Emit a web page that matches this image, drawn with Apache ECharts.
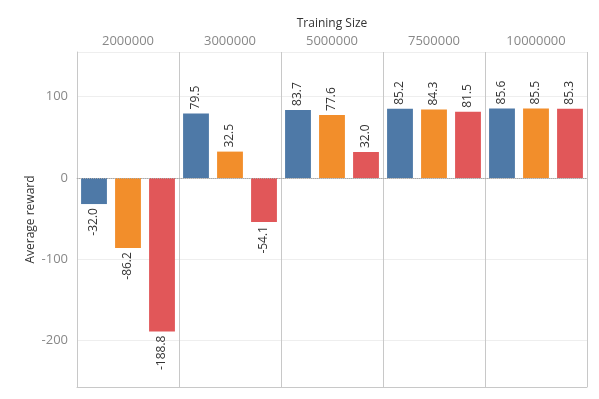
<!DOCTYPE html>
<html>
<head>
<meta charset="utf-8">
<script src="https://cdn.jsdelivr.net/npm/echarts@6/dist/echarts.min.js"></script>
<style>
  html, body { margin: 0; padding: 0; background: #fff; }
  #c1 { width: 599px; height: 399px; }
</style>
</head>
<body>
<div id="c1"></div>
<script>
// training sizes (column panels)
var sizes = ['2000000', '3000000', '5000000', '7500000', '10000000']
// three runs per panel, left to right
var runA = [-32.0, 79.5, 83.7, 85.2, 85.6]
var runB = [-86.2, 32.5, 77.6, 84.3, 85.5]
var runC = [-188.8, -54.1, 32.0, 81.5, 85.3]
var colors = ['#4e79a7', '#f28e2b', '#e15759']

var FONT = "'Open Sans', 'Noto Sans', sans-serif"
var lineColor = '#c8c8c8'

// flatten into 15 bars, panel by panel
var cats = [], items = []
for (var k = 0; k < sizes.length; k++) {
  var vals = [runA[k], runB[k], runC[k]]
  for (var j = 0; j < 3; j++) {
    var v = vals[j]
    cats.push(sizes[k] + '_' + j)
    items.push({
      value: v,
      itemStyle: { color: colors[j] },
      label: {
        position: v >= 0 ? 'top' : 'bottom',
        align: v >= 0 ? 'left' : 'right'
      }
    })
  }
}

var myChart = echarts.init(document.getElementById('c1'), null, { renderer: 'canvas' })
myChart.setOption({
  backgroundColor: '#fff',
  animation: false,
  textStyle: { fontFamily: FONT },
  grid: { left: 77, right: 12, top: 52, bottom: 12, containLabel: false },
  xAxis: [{
    type: 'category',
    data: cats,
    position: 'bottom',
    axisLine: { show: true, onZero: false, lineStyle: { color: lineColor } },
    axisTick: { show: false },
    axisLabel: { show: false },
    splitLine: { show: false }
  }, {
    type: 'category',
    data: sizes,
    position: 'top',
    name: 'Training Size',
    nameLocation: 'middle',
    nameGap: 22,
    nameMoveOverlap: false,
    nameTextStyle: { color: '#333', fontSize: 12, fontFamily: FONT },
    axisLine: { show: true, lineStyle: { color: lineColor } },
    axisTick: { show: true, length: 20, lineStyle: { color: lineColor } },
    axisLabel: { color: '#888', fontSize: 13, margin: 4, fontFamily: FONT },
    splitLine: { show: true, lineStyle: { color: lineColor } }
  }],
  yAxis: {
    type: 'value',
    min: -257,
    max: 155,
    splitNumber: 4,
    name: 'Average reward',
    nameLocation: 'middle',
    nameGap: 40,
    nameMoveOverlap: false,
    nameTextStyle: { color: '#333', fontSize: 12, fontFamily: FONT },
    axisLine: { show: true, lineStyle: { color: lineColor } },
    axisTick: { show: false },
    axisLabel: { color: '#888', fontSize: 13, margin: 9, showMinLabel: false, showMaxLabel: false, fontFamily: FONT },
    splitLine: { show: true, lineStyle: { color: '#eeeeee' } }
  },
  series: [{
    type: 'bar',
    xAxisIndex: 0,
    barWidth: '76%',
    data: items,
    label: {
      show: true,
      rotate: 90,
      verticalAlign: 'middle',
      distance: 4,
      color: '#333',
      fontSize: 12,
      fontFamily: FONT,
      formatter: function (p) { return p.value.toFixed(1) }
    },
    markLine: {
      silent: true,
      symbol: 'none',
      label: { show: false },
      lineStyle: { color: '#aaa', type: 'dotted', width: 1 },
      data: [{ yAxis: 0 }]
    }
  }]
})
</script>
</body>
</html>
